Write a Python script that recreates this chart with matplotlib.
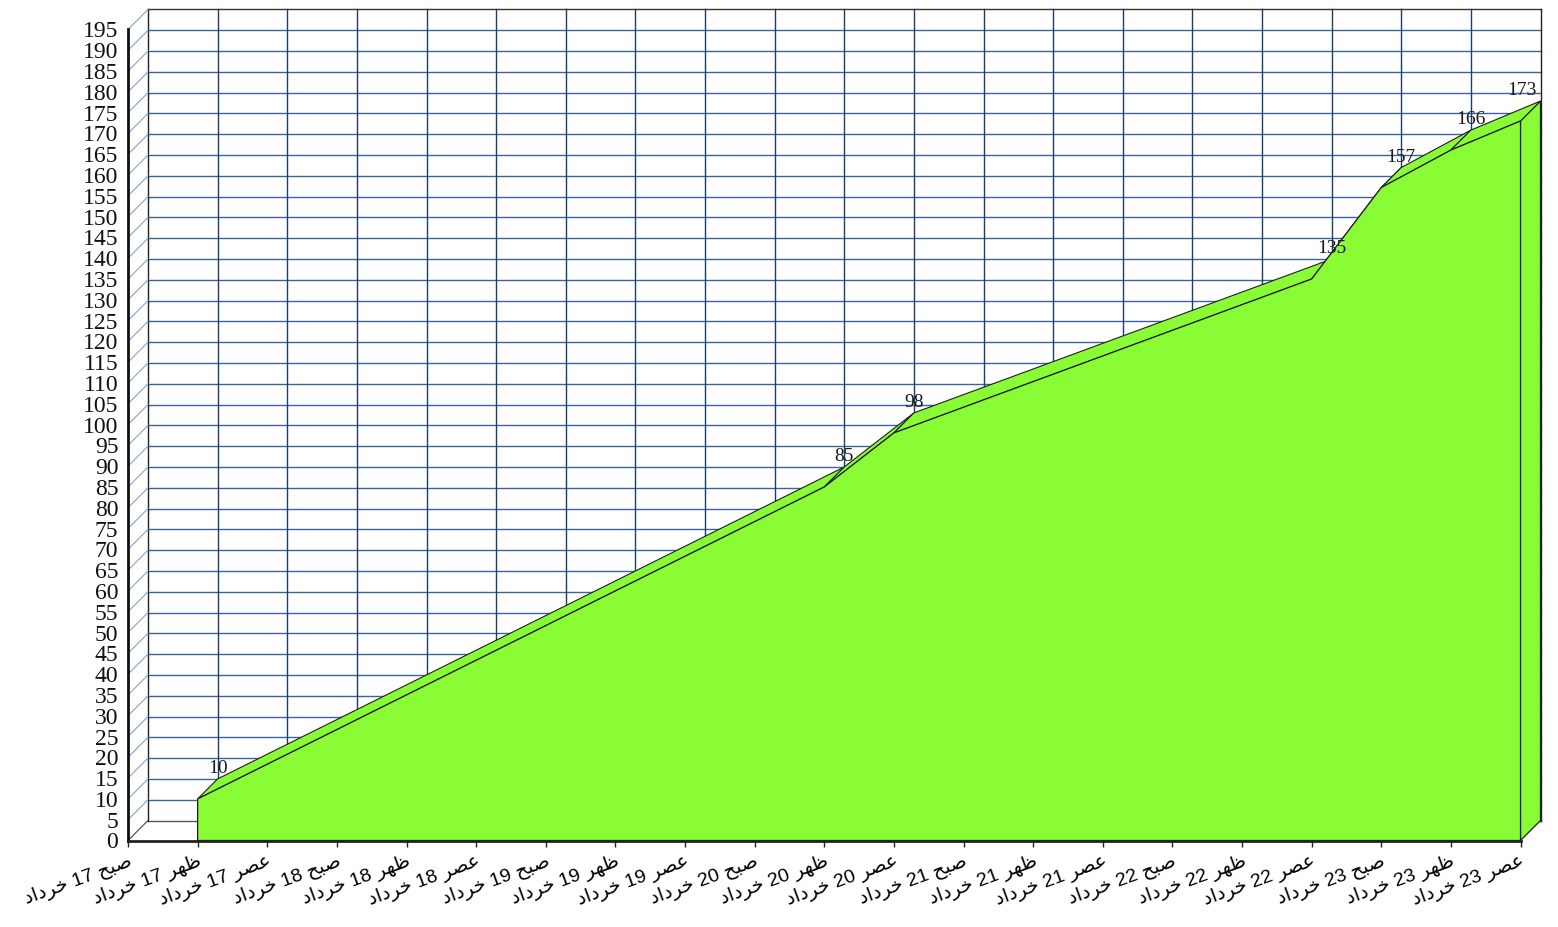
import matplotlib
matplotlib.use("Agg")
import matplotlib.pyplot as plt
from matplotlib.patches import Polygon
import numpy as np

# ---------------- data ----------------
periods = ['صبح', 'ظهر', 'عصر']
days = [17, 18, 19, 20, 21, 22, 23]
month = 'خرداد'
categories = [f'{p} {d} {month}' for d in days for p in periods]

# values (None = no reading for that slot)
values = [None, 10, None, None, None, None, None, None, None, None, 85, 98,
          None, None, None, None, None, 135, 157, 166, 173]

y_ticks = list(range(0, 200, 5))

# ---------------- minimal Arabic-script shaping (presentation forms) ----------------
FORMS = {
    'ص': (0xFEB9, 0xFEBA, 0xFEBB, 0xFEBC),
    'ب': (0xFE8F, 0xFE90, 0xFE91, 0xFE92),
    'ح': (0xFEA1, 0xFEA2, 0xFEA3, 0xFEA4),
    'ظ': (0xFEC5, 0xFEC6, 0xFEC7, 0xFEC8),
    'ه': (0xFEE9, 0xFEEA, 0xFEEB, 0xFEEC),
    'ع': (0xFEC9, 0xFECA, 0xFECB, 0xFECC),
    'خ': (0xFEA5, 0xFEA6, 0xFEA7, 0xFEA8),
    'ر': (0xFEAD, 0xFEAE, None, None),
    'د': (0xFEA9, 0xFEAA, None, None),
    'ا': (0xFE8D, 0xFE8E, None, None),
}


def shape_word(w):
    out = []
    for i, c in enumerate(w):
        if c not in FORMS:
            out.append(c)
            continue
        prev = w[i - 1] if i > 0 else None
        nxt = w[i + 1] if i < len(w) - 1 else None
        jp = prev in FORMS and FORMS[prev][2] is not None
        jn = nxt in FORMS and FORMS[c][2] is not None
        f = FORMS[c]
        if jp and jn:
            cp = f[3]
        elif jp:
            cp = f[1]
        elif jn:
            cp = f[2]
        else:
            cp = f[0]
        out.append(chr(cp))
    return ''.join(out)


def visual(s):
    toks = s.split(' ')
    res = []
    for t in toks:
        if any(ch in FORMS for ch in t):
            res.append(shape_word(t)[::-1])
        else:
            res.append(t)
    return ' '.join(res[::-1])


# ---------------- figure ----------------
W, H = 1558, 927
fig = plt.figure(figsize=(W / 100, H / 100), dpi=100)
ax = fig.add_axes([128 / W, (H - 840.5) / H, (1520.5 - 128) / W, (840.5 - 29.5) / H])
n = len(categories)
ax.set_xlim(0, n - 1)
ax.set_ylim(0, 195)

# depth (20 px right, 20 px up) in data units
DX = 20 * (n - 1) / ax.bbox.width
DY = 20 * 195 / ax.bbox.height
XMAX = n - 1
YMAX = 195

hcol = '#37649a'
vcol = '#1b3d6c'
wcol = '#86a2c6'

# back wall horizontal grid
for v in y_ticks:
    c = '#555555' if v == 0 else ('#333333' if v == YMAX else hcol)
    ax.plot([DX, XMAX + DX], [v + DY, v + DY], color=c, lw=1.0, clip_on=False, zorder=1)
# back wall vertical grid
for i in range(n):
    c = '#222222' if i in (0, n - 1) else vcol
    ax.plot([i + DX, i + DX], [DY, YMAX + DY], color=c, lw=1.0, clip_on=False, zorder=1)
# left wall diagonals
for v in y_ticks:
    c = '#444444' if v == 0 else wcol
    ax.plot([0, DX], [v, v + DY], color=c, lw=0.8, clip_on=False, zorder=1)

# ---------------- 3D area ----------------
green = '#89FC35'
edge = '#1e1e1e'
xs = [i for i, v in enumerate(values) if v is not None]
vs = [v for v in values if v is not None]

# right side face
xr, vr = xs[-1], vs[-1]
ax.add_patch(Polygon([(xr, 0), (xr, vr), (xr + DX, vr + DY), (xr + DX, DY)],
                     closed=True, facecolor=green, edgecolor=edge, lw=0.9,
                     clip_on=False, zorder=3))
# top strips
for k in range(len(xs) - 1):
    x0, v0, x1, v1 = xs[k], vs[k], xs[k + 1], vs[k + 1]
    ax.add_patch(Polygon([(x0, v0), (x1, v1), (x1 + DX, v1 + DY), (x0 + DX, v0 + DY)],
                         closed=True, facecolor=green, edgecolor=edge, lw=0.8,
                         clip_on=False, zorder=4))
# front face
front = [(xs[0], 0)] + list(zip(xs, vs)) + [(xs[-1], 0)]
ax.add_patch(Polygon(front, closed=True, facecolor=green, edgecolor=edge, lw=0.9,
                     clip_on=False, zorder=5))

# data labels
for k, (x, v) in enumerate(zip(xs, vs)):
    if k == len(xs) - 1:
        ax.text(x + DX - 0.06, v + DY + 2.5, str(v), ha='right', va='center',
                family='Liberation Serif', fontsize=14, color='#1a1a1a', zorder=6,
                clip_on=False)
    else:
        ax.text(x + DX, v + DY + 2.5, str(v), ha='center', va='center',
                family='Liberation Serif', fontsize=14, color='#1a1a1a', zorder=6,
                clip_on=False)

# ---------------- axes ----------------
for s in ('top', 'right'):
    ax.spines[s].set_visible(False)
ax.spines['left'].set_color('#111111')
ax.spines['left'].set_linewidth(2.0)
ax.spines['bottom'].set_color('#222222')
ax.spines['bottom'].set_linewidth(2.0)
ax.spines['left'].set_zorder(7)
ax.spines['bottom'].set_zorder(7)
ax.patch.set_visible(False)

ax.set_yticks(y_ticks)
ax.set_yticklabels([str(t) for t in y_ticks], family='Liberation Serif', fontsize=17,
                   color='#111111')
ax.tick_params(axis='y', length=0, pad=7)

ax.set_xticks(range(n))
ax.set_xticklabels([visual(c) for c in categories], rotation=20, ha='right', va='top',
                   rotation_mode='anchor', family=['Liberation Sans', 'DejaVu Sans'],
                   fontsize=14)
ax.tick_params(axis='x', length=4, width=1, color='#222222', pad=4)

fig.savefig('out.png', dpi=100, facecolor='white')
